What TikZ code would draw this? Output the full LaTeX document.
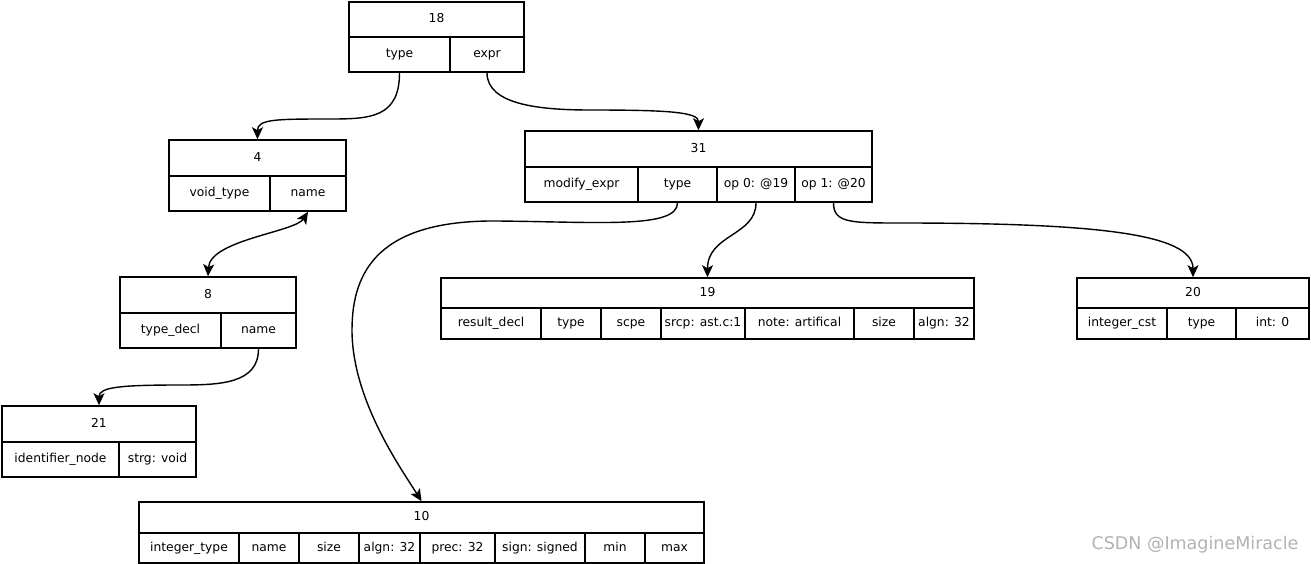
\documentclass[tikz,border=0pt]{standalone}
\usepackage{fontspec}
\setmainfont{DejaVu Sans}
\usetikzlibrary{arrows.meta}

% one box of a record: name, left, right, top, bottom, text
\newcommand{\fieldbox}[6]{\node[fld, minimum width={(#3-#2)*1pt}, minimum height={(#5-#4)*1pt}] (#1) at ({(#2+#3)/2},{(#4+#5)/2}) {#6};}

\begin{document}
\begin{tikzpicture}[x=1pt,y=-1pt,
	fld/.style={draw, line width=1.6pt, inner sep=0pt, text height=9pt, text depth=2.5pt, font=\fontsize{12.3}{14}\selectfont},
	link/.style={line width=1.4pt, -{Stealth[length=12pt,width=11pt,inset=3pt]}},
	both/.style={line width=1.4pt, {Stealth[length=12pt,width=11pt,inset=3pt]}-{Stealth[length=12pt,width=11pt,inset=3pt]}}]

	\useasboundingbox (0,0) rectangle (1311,564);

	% 18
	\fieldbox{t18}{349}{524}{2}{37}{18}
	\fieldbox{c18type}{349}{450}{37}{72}{type}
	\fieldbox{c18expr}{450}{524}{37}{72}{expr}

	% 4
	\fieldbox{t4}{169}{346}{140}{176}{4}
	\fieldbox{c4void}{169}{270}{176}{211}{void\_type}
	\fieldbox{c4name}{270}{346}{176}{211}{name}

	% 8
	\fieldbox{t8}{120}{296}{277}{313}{8}
	\fieldbox{c8decl}{120}{221}{313}{348}{type\_decl}
	\fieldbox{c8name}{221}{296}{313}{348}{name}

	% 21
	\fieldbox{t21}{2}{196}{406}{442}{21}
	\fieldbox{c21id}{2}{119}{442}{477}{identifier\_node}
	\fieldbox{c21strg}{119}{196}{442}{477}{strg: void}

	% 31
	\fieldbox{t31}{525}{872}{131}{167}{31}
	\fieldbox{c31mod}{525}{638}{167}{202}{modify\_expr}
	\fieldbox{c31type}{638}{717}{167}{202}{type}
	\fieldbox{c31op0}{717}{795}{167}{202}{op 0: @19}
	\fieldbox{c31op1}{795}{872}{167}{202}{op 1: @20}

	% 19
	\fieldbox{t19}{441}{974}{278}{308}{19}
	\fieldbox{c19res}{441}{541}{308}{339}{result\_decl}
	\fieldbox{c19type}{541}{601}{308}{339}{type}
	\fieldbox{c19scpe}{601}{661}{308}{339}{scpe}
	\fieldbox{c19srcp}{661}{745}{308}{339}{srcp: ast.c:1}
	\fieldbox{c19note}{745}{854}{308}{339}{note: artifical}
	\fieldbox{c19size}{854}{914}{308}{339}{size}
	\fieldbox{c19algn}{914}{974}{308}{339}{algn: 32}

	% 20
	\fieldbox{t20}{1077}{1309}{278}{308}{20}
	\fieldbox{c20cst}{1077}{1167}{308}{339}{integer\_cst}
	\fieldbox{c20type}{1167}{1236}{308}{339}{type}
	\fieldbox{c20int}{1236}{1309}{308}{339}{int: 0}

	% 10
	\fieldbox{t10}{139}{704}{502}{533}{10}
	\fieldbox{c10int}{139}{239}{533}{563}{integer\_type}
	\fieldbox{c10name}{239}{299}{533}{563}{name}
	\fieldbox{c10size}{299}{359}{533}{563}{size}
	\fieldbox{c10algn}{359}{420}{533}{563}{algn: 32}
	\fieldbox{c10prec}{420}{495}{533}{563}{prec: 32}
	\fieldbox{c10sign}{495}{585}{533}{563}{sign: signed}
	\fieldbox{c10min}{585}{645}{533}{563}{min}
	\fieldbox{c10max}{645}{704}{533}{563}{max}

	% links
	\draw[link] (c18type.south) .. controls +(0,45) and +(40,0) .. (330,119) .. controls +(-55,0) and +(0,-20) .. (t4.north);
	\draw[link] (c18expr.south) .. controls +(0,32) and +(-50,0) .. (590,110) .. controls +(80,0) and +(0,-18) .. (t31.north);
	\draw[both] (c4name.south) .. controls (295,232) and (210,240) .. (t8.north);
	\draw[link] (c8name.south) .. controls +(0,35) and +(40,0) .. (180,385) .. controls +(-60,0) and +(0,-18) .. (t21.north);
	\draw[link] (c31type.south) .. controls +(0,26) and +(103,1) .. (497,221) .. controls +(-117,-1) and +(0,-60) .. (352,330) .. controls +(0,70) and +(-20,-32) .. (t10.north);
	\draw[link] (c31op0.south) .. controls +(0,33) and +(0,-43) .. (t19.north);
	\draw[link] (c31op1.south) .. controls +(0,20) and +(-50,0) .. (900,223) .. controls +(200,0) and +(0,-43) .. (t20.north);

	\node[text=gray!60, font=\fontsize{17.5}{20}\selectfont] (mark) at (1195,545) {CSDN @ImagineMiracle};

\end{tikzpicture}
\end{document}
